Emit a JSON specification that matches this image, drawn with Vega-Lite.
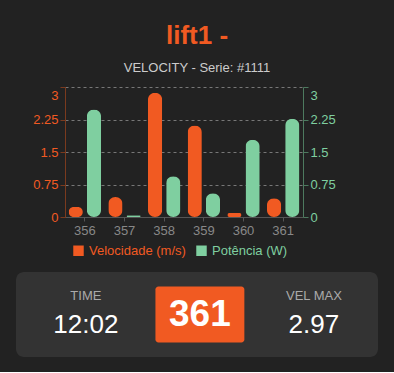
{
  "$schema": "https://vega.github.io/schema/vega-lite/v6.json",
  "background": "#222222",
  "padding": {"left": 16, "right": 6, "top": 22, "bottom": 15},
  "title": {
    "text": "lift1 -",
    "subtitle": "VELOCITY - Serie: #1111",
    "anchor": "middle",
    "dx": -5,
    "color": "#f15a22",
    "font": "Liberation Sans",
    "fontSize": 26,
    "fontWeight": "bold",
    "subtitleColor": "#cccccc",
    "subtitleFont": "Liberation Sans",
    "subtitleFontSize": 13,
    "subtitlePadding": 13,
    "offset": 12
  },
  "datasets": {
    "barras": [
      {"ciclo": "356", "serie": "Velocidade (m/s)", "valor": 0.23},
      {"ciclo": "356", "serie": "Potência (W)", "valor": 2.48},
      {"ciclo": "357", "serie": "Velocidade (m/s)", "valor": 0.46},
      {"ciclo": "357", "serie": "Potência (W)", "valor": 0.04},
      {"ciclo": "358", "serie": "Velocidade (m/s)", "valor": 2.87},
      {"ciclo": "358", "serie": "Potência (W)", "valor": 0.94},
      {"ciclo": "359", "serie": "Velocidade (m/s)", "valor": 2.11},
      {"ciclo": "359", "serie": "Potência (W)", "valor": 0.55},
      {"ciclo": "360", "serie": "Velocidade (m/s)", "valor": 0.09},
      {"ciclo": "360", "serie": "Potência (W)", "valor": 1.78},
      {"ciclo": "361", "serie": "Velocidade (m/s)", "valor": 0.43},
      {"ciclo": "361", "serie": "Potência (W)", "valor": 2.27}
    ],
    "painel": [
      {"col": "time", "row": "label", "texto": "TIME"},
      {"col": "time", "row": "value", "texto": "12:02"},
      {"col": "num", "row": "big", "texto": "361"},
      {"col": "vel", "row": "label", "texto": "VEL MAX"},
      {"col": "vel", "row": "value", "texto": "2.97"}
    ]
  },
  "spacing": 7,
  "align": "all",
  "center": true,
  "resolve": {"legend": {"color": "independent"}, "scale": {"color": "independent"}},
  "vconcat": [
    {
      "width": 238,
      "height": 130,
      "data": {"name": "barras"},
      "encoding": {
        "x": {
          "field": "ciclo",
          "type": "nominal",
          "title": null,
          "scale": {"paddingInner": 0.183, "paddingOuter": 0.0915},
          "axis": {
            "labelAngle": 0,
            "labelColor": "#888888",
            "labelFontSize": 13,
            "labelPadding": 3,
            "domainColor": "#555555",
            "tickColor": "#555555",
            "tickSize": 4,
            "grid": false
          }
        },
        "xOffset": {
          "field": "serie",
          "type": "nominal",
          "scale": {"domain": ["Velocidade (m/s)", "Potência (W)"], "paddingInner": 0.22, "paddingOuter": 0}
        },
        "color": {
          "field": "serie",
          "type": "nominal",
          "scale": {"domain": ["Velocidade (m/s)", "Potência (W)"], "range": ["#f15a22", "#7fcfa0"]},
          "legend": {
            "orient": "bottom",
            "direction": "horizontal",
            "title": null,
            "symbolType": "square",
            "symbolSize": 110,
            "symbolStrokeWidth": 0,
            "symbolOpacity": 1,
            "labelFontSize": 13,
            "labelOffset": 4,
            "columnPadding": 9,
            "padding": 7,
            "offset": 0,
            "encode": {
              "labels": {
                "update": {
                  "fill": {"signal": "datum.value === 'Potência (W)' ? '#7fcfa0' : '#f15a22'"}
                }
              }
            }
          }
        }
      },
      "layer": [
        {
          "transform": [{"filter": "datum.serie === 'Velocidade (m/s)'"}],
          "mark": {"type": "bar", "cornerRadius": 7},
          "encoding": {
            "y": {
              "field": "valor",
              "type": "quantitative",
              "title": null,
              "scale": {"domain": [0, 3]},
              "axis": {
                "values": [0, 0.75, 1.5, 2.25, 3],
                "format": ".3~g",
                "labelColor": "#f15a22",
                "labelFontSize": 13,
                "labelPadding": 2,
                "labelOffset": {"condition": {"test": "datum.value === 3", "value": 8}, "value": 0},
                "domainColor": "#7a3a1e",
                "tickColor": "#7a3a1e",
                "tickSize": 5,
                "grid": true,
                "gridColor": "#777777",
                "gridDash": [3, 3]
              }
            }
          }
        },
        {
          "transform": [{"filter": "datum.serie === 'Potência (W)'"}],
          "mark": {"type": "bar", "cornerRadius": 7},
          "encoding": {
            "y": {
              "field": "valor",
              "type": "quantitative",
              "title": null,
              "scale": {"domain": [0, 3]},
              "axis": {
                "orient": "right",
                "values": [0, 0.75, 1.5, 2.25, 3],
                "format": ".3~g",
                "labelColor": "#7fcfa0",
                "labelFontSize": 13,
                "labelPadding": 2,
                "labelOffset": {"condition": {"test": "datum.value === 3", "value": 8}, "value": 0},
                "domainColor": "#4d7a5f",
                "tickColor": "#4d7a5f",
                "tickSize": 5,
                "grid": false,
                "minExtent": 36
              }
            }
          }
        }
      ],
      "resolve": {"scale": {"y": "independent"}}
    },
    {
      "width": 362,
      "height": 85,
      "view": {"fill": "#333333", "stroke": null, "cornerRadius": 8},
      "data": {"name": "painel"},
      "encoding": {
        "x": {
          "field": "col",
          "type": "nominal",
          "scale": {"domain": ["time", "num", "vel"], "paddingInner": 0, "paddingOuter": 0.0877, "align": 0.645},
          "axis": null
        }
      },
      "layer": [
        {
          "transform": [{"filter": "datum.row === 'big'"}],
          "mark": {"type": "rect", "color": "#f15a22", "cornerRadius": 3, "width": {"band": 0.78}},
          "encoding": {
            "y": {
              "field": "row",
              "type": "nominal",
              "scale": {"domain": ["big"], "paddingInner": 0, "paddingOuter": 0.259},
              "axis": {"orient": "right", "labels": false, "ticks": false, "domain": false, "grid": false, "title": null, "minExtent": 10, "maxExtent": 10}
            }
          }
        },
        {
          "transform": [{"filter": "datum.row === 'big'"}],
          "mark": {"type": "text", "color": "#ffffff", "fontSize": 37, "fontWeight": "bold", "font": "Liberation Sans"},
          "encoding": {
            "y": {"field": "row", "type": "nominal", "scale": {"domain": ["big"], "paddingInner": 0, "paddingOuter": 0.259}, "axis": null},
            "text": {"field": "texto"}
          }
        },
        {
          "transform": [{"filter": "datum.row === 'label'"}],
          "mark": {"type": "text", "color": "#aaaaaa", "fontSize": 13, "font": "Liberation Sans"},
          "encoding": {
            "y": {"field": "row", "type": "nominal", "scale": {"type": "point", "domain": ["label", "value"], "padding": 1.029, "align": 0.432}, "axis": null},
            "text": {"field": "texto"}
          }
        },
        {
          "transform": [{"filter": "datum.row === 'value'"}],
          "mark": {"type": "text", "color": "#ffffff", "fontSize": 26, "font": "Liberation Sans"},
          "encoding": {
            "y": {"field": "row", "type": "nominal", "scale": {"type": "point", "domain": ["label", "value"], "padding": 1.029, "align": 0.432}, "axis": null},
            "text": {"field": "texto"}
          }
        }
      ],
      "resolve": {"scale": {"y": "independent"}}
    }
  ],
  "config": {
    "font": "Liberation Sans",
    "view": {"stroke": null},
    "axis": {"labelFont": "Liberation Sans"},
    "legend": {"labelFont": "Liberation Sans"}
  }
}
